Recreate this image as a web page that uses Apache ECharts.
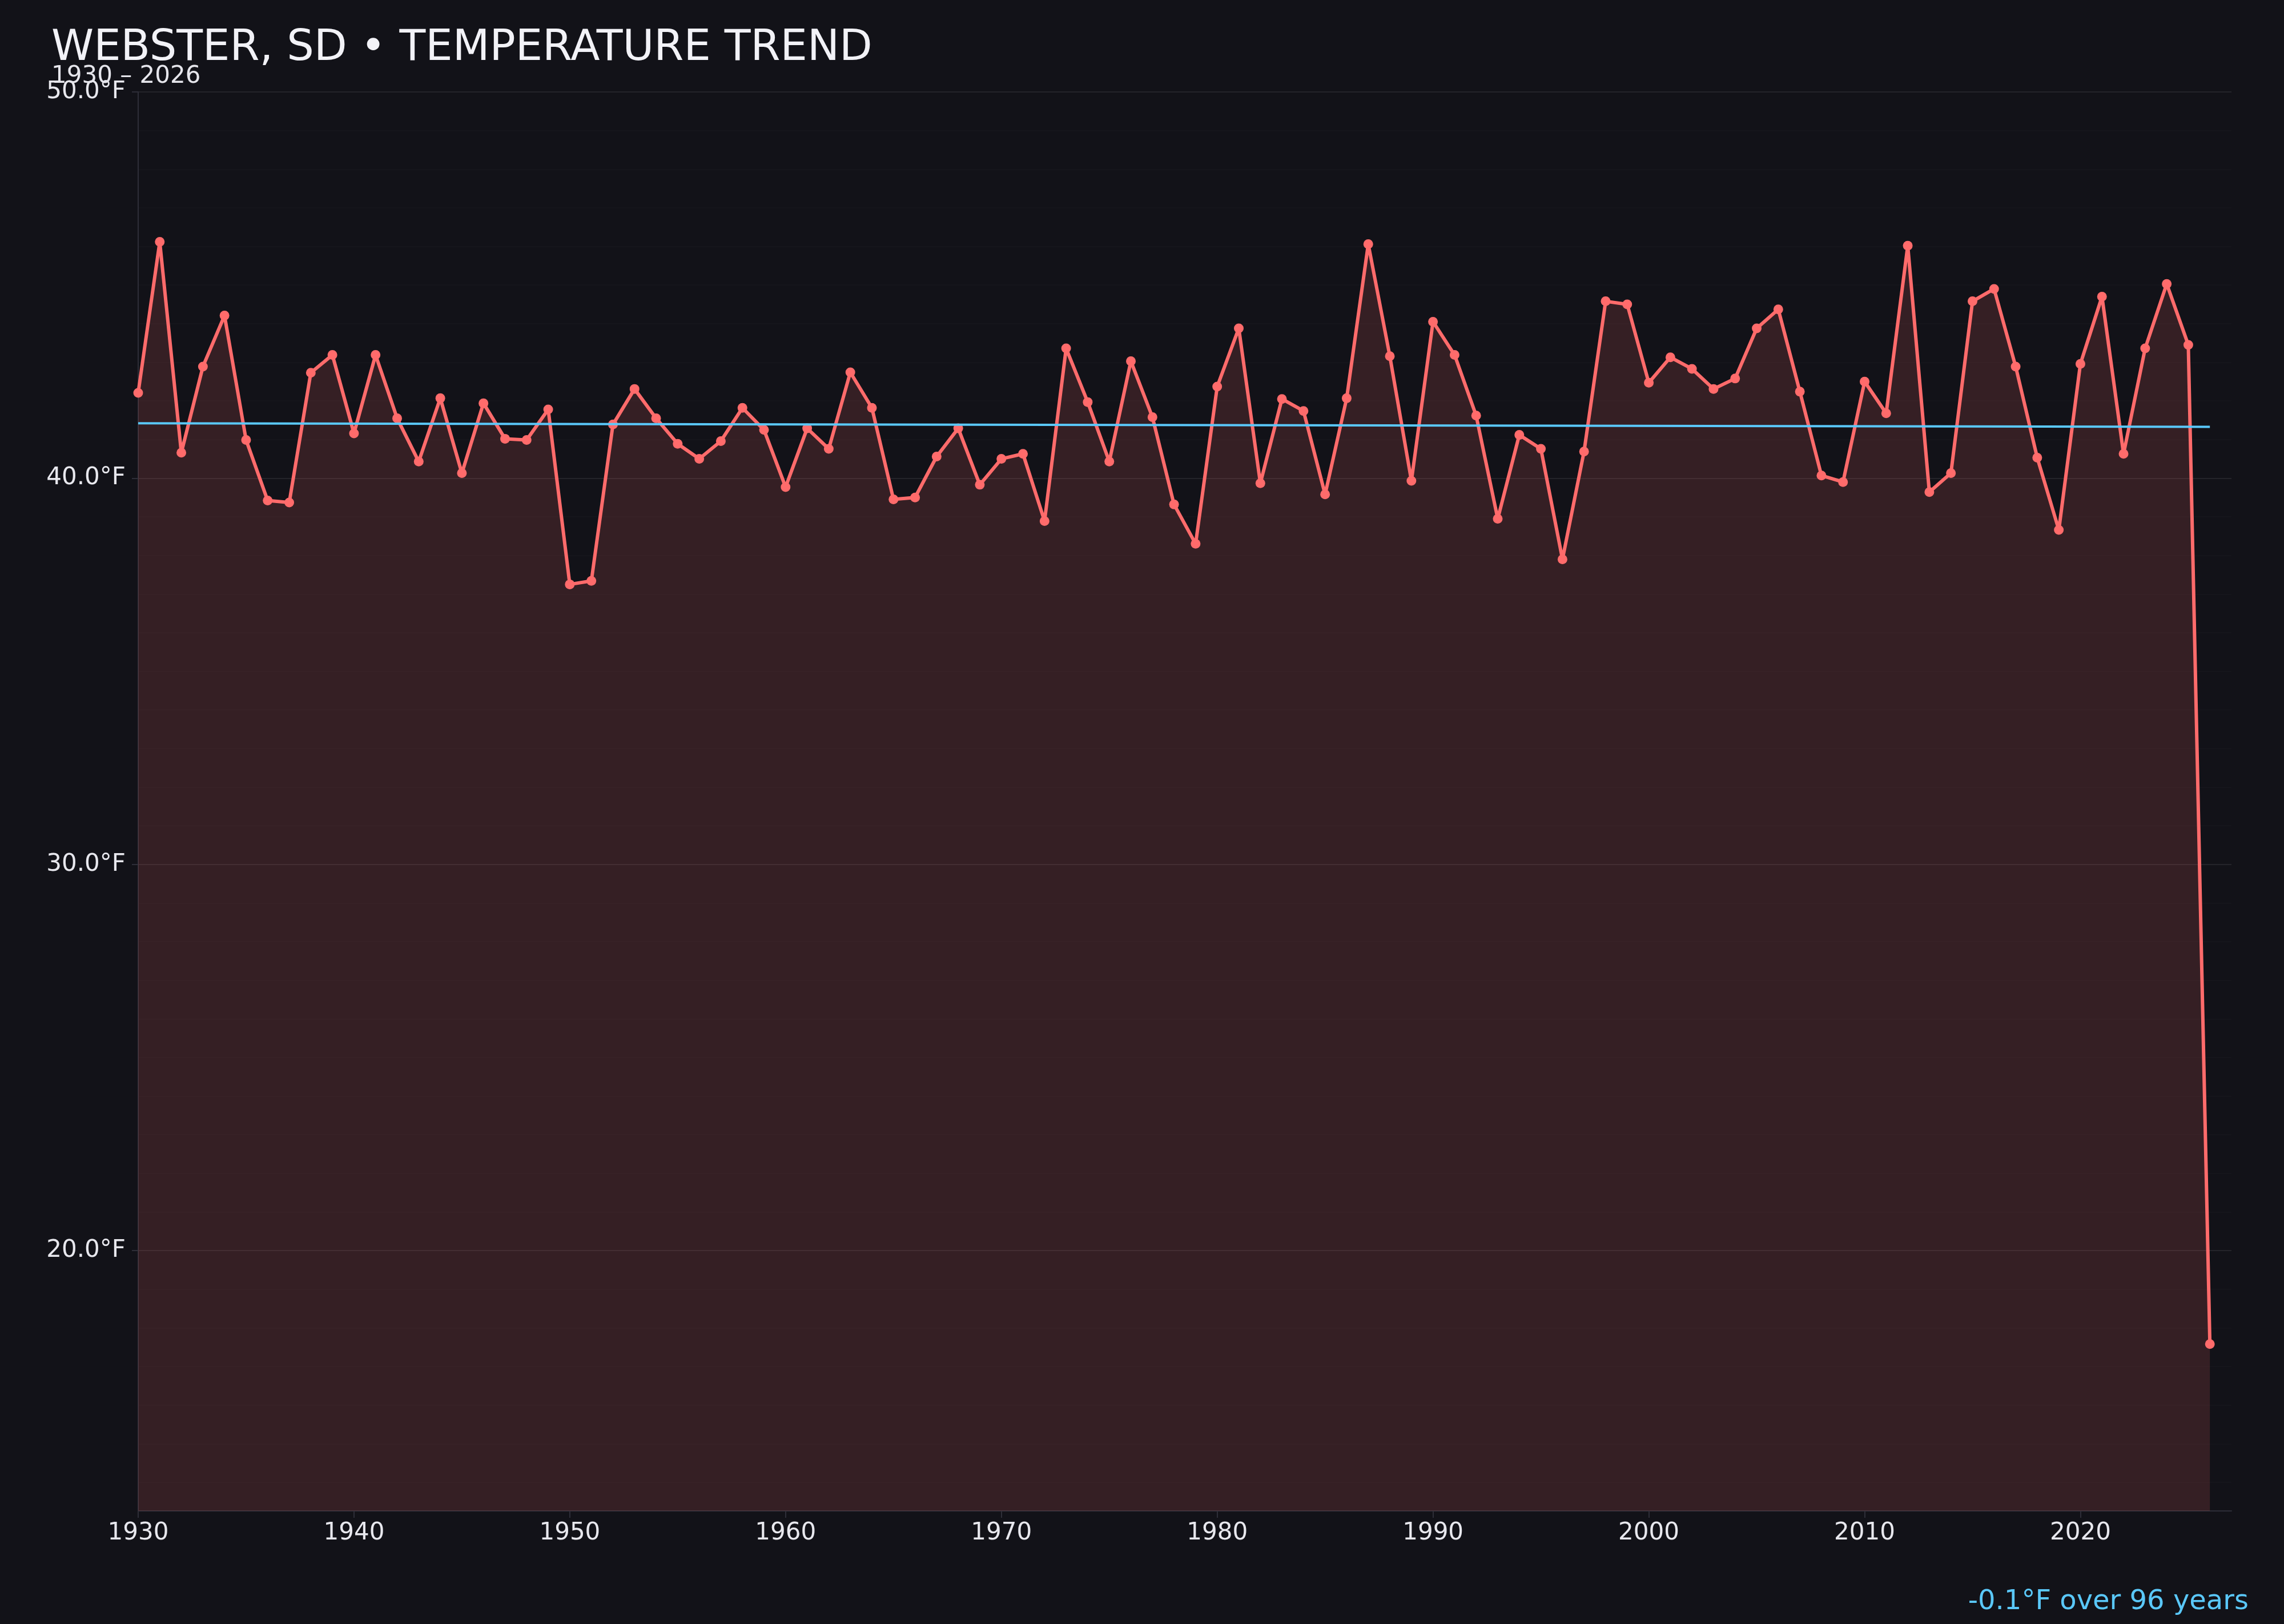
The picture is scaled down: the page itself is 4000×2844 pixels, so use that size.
<!DOCTYPE html>
<html>
<head>
<meta charset="utf-8">
<script src="https://cdn.jsdelivr.net/npm/echarts@6/dist/echarts.min.js"></script>
<style>
html,body{margin:0;padding:0;background:#121218;}
#chart{width:4000px;height:2844px;}
</style>
</head>
<body>
<div id="chart"></div>
<script>
const years = [1930,1931,1932,1933,1934,1935,1936,1937,1938,1939,
1940,1941,1942,1943,1944,1945,1946,1947,1948,1949,
1950,1951,1952,1953,1954,1955,1956,1957,1958,1959,
1960,1961,1962,1963,1964,1965,1966,1967,1968,1969,
1970,1971,1972,1973,1974,1975,1976,1977,1978,1979,
1980,1981,1982,1983,1984,1985,1986,1987,1988,1989,
1990,1991,1992,1993,1994,1995,1996,1997,1998,1999,
2000,2001,2002,2003,2004,2005,2006,2007,2008,2009,
2010,2011,2012,2013,2014,2015,2016,2017,2018,2019,
2020,2021,2022,2023,2024,2025,2026];
const temps = [42.21,46.12,40.66,42.89,44.21,40.99,39.42,39.37,42.73,43.19,
41.16,43.19,41.55,40.43,42.07,40.13,41.94,41.02,40.99,41.78,
37.25,37.34,41.39,42.31,41.55,40.89,40.50,40.96,41.82,41.25,
39.77,41.29,40.76,42.74,41.82,39.45,39.50,40.56,41.29,39.83,
40.50,40.63,38.89,43.36,41.97,40.43,43.03,41.58,39.32,38.30,
42.37,43.88,39.87,42.05,41.74,39.58,42.07,46.06,43.16,39.93,
44.05,43.19,41.62,38.95,41.12,40.76,37.90,40.69,44.58,44.50,
42.47,43.13,42.83,42.31,42.58,43.88,44.37,42.24,40.07,39.90,
42.50,41.68,46.02,39.64,40.13,44.58,44.90,42.89,40.53,38.66,
42.96,44.70,40.63,43.36,45.03,43.45,17.58];
const trendYears = [1930, 2026];
const trendValues = [41.42, 41.33];
const xTicks = [1930,1940,1950,1960,1970,1980,1990,2000,2010,2020];
const yMajorTicks = [20,30,40,50];
const yMinorTicks = [14,15,16,17,18,19,20,21,22,23,24,25,26,27,28,29,30,31,32,33,34,35,36,37,38,39,40,41,42,43,44,45,46,47,48,49,50];
const titleText = 'WEBSTER, SD • TEMPERATURE TREND';
const subText = '1930 – 2026';
const trendText = '-0.1°F over 96 years';

const FONT = 'DejaVu Sans';
const chart = echarts.init(document.getElementById('chart'), null, {renderer:'canvas'});
const lineData = years.map((y,i)=>[y, temps[i]]);
const trendData = trendYears.map((y,i)=>[y, trendValues[i]]);

chart.setOption({
  animation:false,
  backgroundColor:'#121218',
  textStyle:{fontFamily:FONT},
  title:[{
    text:titleText,
    subtext:subText,
    left:90, top:48, padding:0, itemGap:-10,
    textStyle:{fontFamily:FONT,fontSize:75,fontWeight:'normal',color:'#f2f2f7'},
    subtextStyle:{fontFamily:FONT,fontSize:42,color:'#e6e6ec'}
  },{
    text:trendText,
    right:62, bottom:14, padding:0,
    textStyle:{fontFamily:FONT,fontSize:48,fontWeight:'normal',color:'#5ac8fa'}
  }],
  grid:{left:242, right:92, top:161, bottom:198, containLabel:false, outerBoundsMode:'none'},
  xAxis:{
    type:'value', min:1930, max:2027,
    axisLine:{show:true, lineStyle:{color:'#2e2e38', width:2}},
    axisTick:{show:true, length:12, customValues:xTicks, lineStyle:{color:'#2e2e38', width:2}},
    axisLabel:{customValues:xTicks, formatter:v=>String(v), fontFamily:FONT, fontSize:42, color:'#e8e8ee', margin:18},
    splitLine:{show:false}
  },
  yAxis:[{
    type:'value', min:13.26, max:50,
    axisLine:{show:true, lineStyle:{color:'#2e2e38', width:2}},
    axisTick:{show:true, length:11, customValues:yMajorTicks, lineStyle:{color:'#2e2e38', width:2}},
    axisLabel:{customValues:yMajorTicks, formatter:v=>v.toFixed(1)+'°F', fontFamily:FONT, fontSize:42, color:'#e8e8ee', margin:22},
    splitLine:{show:true, lineStyle:{color:'rgba(255,255,255,0.065)', width:2}}
  },{
    type:'value', min:13.26, max:50, position:'left',
    axisLine:{show:false}, axisLabel:{show:false},
    axisTick:{show:false, customValues:yMinorTicks},
    splitLine:{show:true, lineStyle:{color:'rgba(255,255,255,0.016)', width:2}}
  }],
  series:[{
    type:'line', data:lineData, yAxisIndex:0,
    symbol:'circle', symbolSize:17, showSymbol:true,
    lineStyle:{color:'#ff6b6b', width:6},
    itemStyle:{color:'#ff6b6b'},
    areaStyle:{color:'#ff6b6b', opacity:0.15, origin:'start'},
    z:2
  },{
    type:'line', data:trendData, yAxisIndex:0,
    symbol:'none',
    lineStyle:{color:'#5ac8fa', width:4},
    z:3
  }]
});
</script>
</body>
</html>
